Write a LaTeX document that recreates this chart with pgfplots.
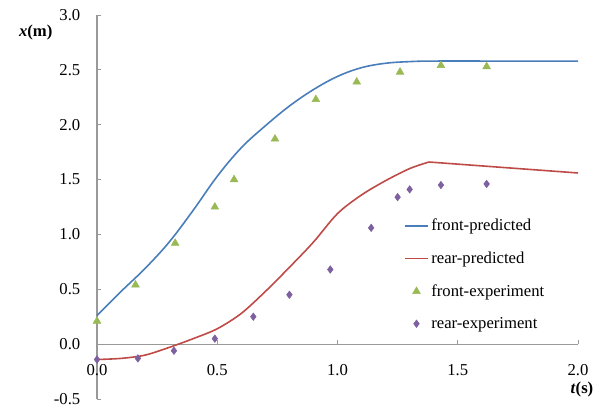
\documentclass[border=0pt]{standalone}
\usepackage{fontspec}
\setmainfont{Liberation Serif}
\usepackage{pgfplots}
\pgfplotsset{compat=1.18}
\usetikzlibrary{calc}
\definecolor{fpred}{RGB}{74,126,187}
\definecolor{rpred}{RGB}{190,75,72}
\definecolor{fexp}{RGB}{152,185,84}
\definecolor{rexp}{RGB}{125,96,160}
\begin{document}
\begin{tikzpicture}
\begin{axis}[
  scale only axis, width=360.75pt, height=288pt,
  xmin=0, xmax=2, ymin=-0.5, ymax=3,
  axis lines=middle,
  axis line style={-, draw=gray!80, line width=0.8pt},
  hide obscured x ticks=false, hide obscured y ticks=false,
  xtick={0,0.5,...,2}, ytick={-0.5,0,...,3},
  tick align=inside, major tick length=3pt,
  tick style={gray!80, line width=0.6pt},
  font=\fontsize{12.5}{15}\selectfont,
  /pgf/number format/assume math mode=true,
  xticklabel style={/pgf/number format/.cd, fixed, fixed zerofill, precision=1, /tikz/.cd, yshift=-12pt},
  yticklabel style={/pgf/number format/.cd, fixed, fixed zerofill, precision=1, /tikz/.cd, xshift=-9pt},
  clip=false,
  legend cell align=left,
  legend style={draw=none, fill=none, at={(axis cs:1.26,1.19)}, anchor=north west,
    row sep=10.25pt, font=\fontsize{12.5}{15}\selectfont},
]
\coordinate (tl) at (axis cs:0,3);
\coordinate (br) at (axis cs:2,-0.5);

\addplot[color=fpred, line width=1.2pt, smooth, tension=0.6] coordinates {
(0,0.26) (0.1,0.48) (0.2,0.69) (0.3,0.93) (0.4,1.22) (0.5,1.53) (0.6,1.79)
(0.7,1.99) (0.8,2.17) (0.9,2.32) (1.0,2.44) (1.1,2.52) (1.2,2.56) (1.3,2.575)
(1.4,2.58) (1.7,2.58) (2.0,2.58)};
\addlegendentry{front-predicted}

\addplot[color=rpred, line width=1.2pt, smooth, tension=0.5] coordinates {
(0,-0.14) (0.1,-0.13) (0.2,-0.10) (0.3,-0.03) (0.4,0.05) (0.5,0.14) (0.6,0.28)
(0.7,0.48) (0.8,0.70) (0.9,0.93) (1.0,1.19) (1.1,1.36) (1.2,1.49) (1.3,1.60)
(1.38,1.66)};
\addlegendentry{rear-predicted}
\addplot[color=rpred, line width=1.2pt, forget plot] coordinates {
(1.38,1.66) (2.0,1.56)};

\addplot[only marks, mark=triangle*, mark size=3.3pt, color=fexp] coordinates {
(0,0.21) (0.16,0.54) (0.325,0.92) (0.49,1.25) (0.57,1.50) (0.74,1.87)
(0.91,2.23) (1.08,2.39) (1.26,2.48) (1.43,2.54) (1.62,2.53)};
\addlegendentry{front-experiment}

\addplot[only marks, mark=diamond*, mark size=2.8pt, color=rexp] coordinates {
(0,-0.14) (0.17,-0.13) (0.32,-0.06) (0.49,0.05) (0.65,0.25) (0.80,0.45)
(0.97,0.68) (1.14,1.06) (1.25,1.34) (1.30,1.41) (1.43,1.45) (1.62,1.46)};
\addlegendentry{rear-experiment}

\node[anchor=center] at ([xshift=-46pt,yshift=-13pt]axis cs:0,3) {\bfseries\textit{x}(m)};
\node[anchor=east] at ([xshift=15pt,yshift=7.5pt]axis cs:2,-0.5) {\bfseries\textit{t}(s)};
\end{axis}
\pgfresetboundingbox
\path ($(tl)+(-72.75pt,11.25pt)$) rectangle ($(br)+(20.25pt,-9pt)$);
\end{tikzpicture}
\end{document}
